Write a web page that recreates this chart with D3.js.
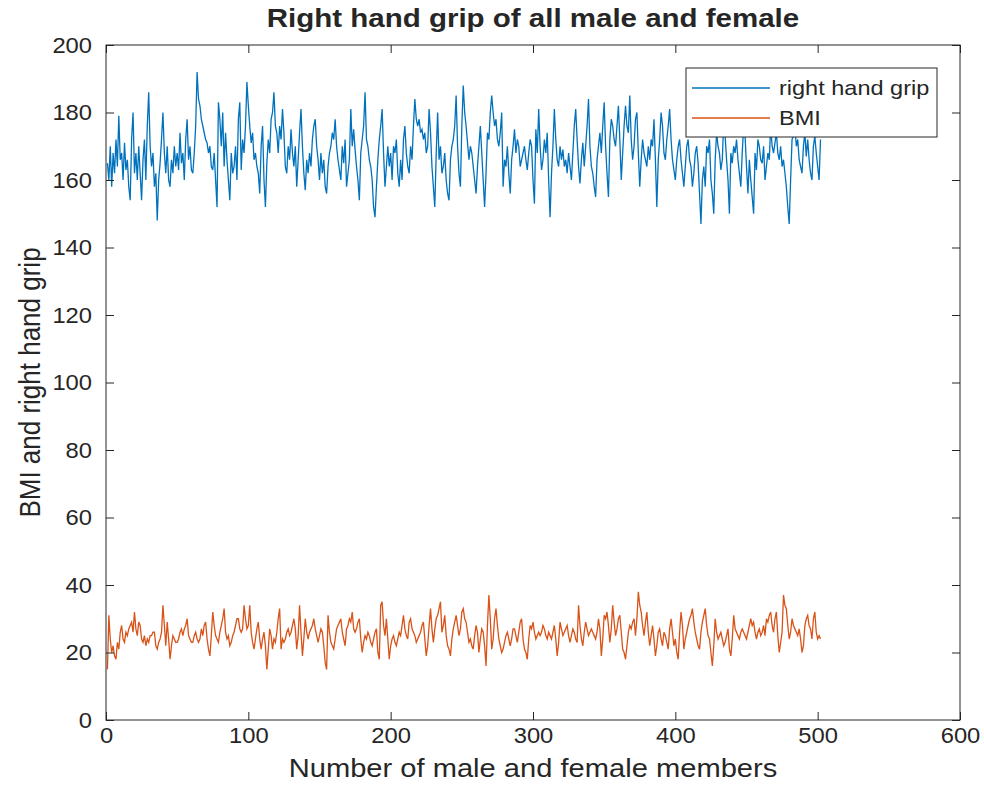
<!DOCTYPE html>
<html>
<head>
<meta charset="utf-8">
<script src="https://cdn.jsdelivr.net/npm/d3@7"></script>
<style>
  html, body { margin: 0; padding: 0; background: #ffffff; }
  svg { display: block; }
  text { font-family: "Liberation Sans", Arial, sans-serif; fill: #262626; }
</style>
</head>
<body>
<svg id="chart" width="984" height="801"></svg>
<script>
// ---- data ----
const title = "Right hand grip of all male and female";
const xLabel = "Number of male and female members";
const yLabel = "BMI and right hand grip";
const seriesNames = ["right hand grip", "BMI"];
const xTicks = [0, 100, 200, 300, 400, 500, 600];
const yTicks = [0, 20, 40, 60, 80, 100, 120, 140, 160, 180, 200];

const rightHandGrip = [
165,160,170,158,168,162,172,164,179,166,
168,160,171,163,166,158,154,172,180,162,
168,160,170,162,154,166,172,160,176,186,
170,164,168,158,162,148,160,165,172,180,
168,162,170,160,158,166,162,170,164,168,
163,174,165,168,160,172,178,166,170,163,
162,168,176,192,184,182,178,176,174,172,
171,168,170,164,163,168,160,152,183,178,
170,180,164,174,166,160,154,168,162,164,
170,160,178,183,163,172,168,176,189,182,
176,171,174,166,168,164,162,156,170,176,
160,152,165,172,168,178,180,186,176,174,
168,176,172,181,174,164,162,170,166,175,
168,164,170,158,166,174,181,170,162,157,
166,162,168,164,172,176,178,170,166,160,
168,162,166,158,156,164,168,170,174,172,
178,170,166,163,160,170,165,172,158,162,
166,181,170,175,169,164,160,154,168,172,
176,186,172,170,166,164,160,152,149,158,
166,172,176,181,168,158,164,170,164,168,
160,170,168,172,162,158,166,160,172,176,
168,164,162,170,166,176,184,178,176,178,
174,175,172,174,168,170,181,174,164,158,
152,168,180,166,170,162,164,168,160,156,
154,166,170,172,176,185,170,162,158,176,
188,180,176,171,166,170,168,164,160,156,
164,170,176,168,160,152,162,174,172,180,
185,180,176,178,172,170,174,180,158,166,
164,170,162,156,166,170,175,168,172,170,
164,166,168,170,166,163,168,172,170,160,
153,175,168,181,170,163,166,172,168,174,
160,149,162,170,181,172,166,164,170,166,
169,164,166,162,168,164,160,168,176,181,
172,164,159,166,171,164,170,176,184,170,
164,162,158,155,166,170,174,168,176,183,
170,162,155,172,178,176,172,170,176,182,
172,160,168,176,182,176,174,185,172,166,
170,178,180,168,158,166,172,168,166,164,
170,166,172,170,178,166,152,166,172,180,
176,168,166,172,176,181,172,166,163,160,
166,170,172,166,162,158,164,170,172,166,
164,158,162,168,170,165,156,147,160,164,
158,170,168,172,160,156,150,166,174,170,
168,163,166,178,173,166,160,150,168,165,
170,168,172,166,162,158,168,176,173,164,
156,166,160,155,150,168,163,172,170,166,
165,170,160,164,168,166,176,170,168,171,
174,168,166,170,164,166,162,158,152,147,
160,172,173,176,170,172,166,164,162,170,
174,167,172,166,162,160,170,173,168,164,
160,172
];

const bmi = [
15,31,24,20,22,19,18,23,21,26,
28,24,23,26,25,27,28,29,26,32,
27,25,29,28,24,23,25,22,24,23,
25,25,26,26,22,21,23,24,26,34,
28,22,29,24,18,22,25,24,23,23,
24,26,27,25,27,28,30,25,24,23,
23,25,26,24,23,24,27,25,28,29,
24,21,19,25,32,28,25,24,23,26,
28,30,33,26,24,25,22,23,25,26,
28,30,30,27,26,27,34,30,27,28,
34,26,23,21,24,27,29,24,21,24,
26,22,15,21,27,25,21,24,23,26,
30,33,21,24,23,24,26,27,25,26,
28,30,27,21,25,34,26,19,24,30,
26,24,26,27,28,30,27,25,23,25,
27,26,22,17,15,31,26,23,22,21,
24,27,28,29,30,26,24,22,27,28,
30,29,32,27,26,27,29,30,24,20,
23,25,24,26,25,23,22,24,26,27,
20,18,34,35,28,25,30,24,18,22,
24,25,23,22,24,26,25,28,31,27,
25,24,29,30,27,26,25,23,24,25,
26,28,29,24,19,22,28,33,27,23,
27,30,31,33,35,26,28,31,25,22,
21,19,24,27,29,31,28,25,27,32,
33,30,29,26,23,24,22,21,25,28,
26,20,24,27,26,22,16,28,37,30,
21,24,30,33,28,24,22,20,21,23,
25,26,24,22,24,27,27,25,23,26,
29,30,24,21,20,18,24,28,27,29,
26,24,25,26,25,26,28,27,25,24,
26,25,24,26,28,24,19,23,29,27,
25,26,27,28,25,23,25,27,26,24,
23,34,28,24,22,26,29,27,25,26,
27,26,25,24,26,30,27,19,24,31,
30,32,28,23,27,34,29,25,27,30,
31,26,21,20,18,22,26,28,27,29,
30,25,30,38,34,32,28,25,29,32,
26,22,25,28,24,19,22,26,27,24,
22,26,25,23,21,27,30,26,22,24,
20,18,26,32,28,21,24,26,28,30,
31,33,29,26,24,22,21,26,29,31,
33,28,25,24,20,16,22,30,26,24,
25,26,24,22,23,25,27,21,19,24,
31,27,26,25,24,26,27,26,25,24,
26,28,30,28,29,26,24,26,27,25,
26,28,25,30,29,31,32,28,26,30,
32,25,20,23,26,37,34,33,28,24,
26,30,28,27,26,25,27,24,20,22,
28,30,31,28,27,24,30,32,26,24,
25,24
];

const seriesColors = ["#0072BD", "#D95319"];

// ---- layout ----
const W = 984, H = 801;
const plot = { left: 106, right: 960, top: 45, bottom: 720 };
const SX = 1.12; // horizontal stretch of the reference's text

const svg = d3.select("#chart");

const x = d3.scaleLinear().domain([0, 600]).range([plot.left, plot.right]);
const y = d3.scaleLinear().domain([0, 200]).range([plot.bottom, plot.top]);

function stretch(sel, sx) {
  sel.each(function () {
    const t = d3.select(this);
    const ax = +t.attr("x") || 0, ay = +t.attr("y") || 0;
    const prev = t.attr("transform") || "";
    t.attr("transform", `${prev} translate(${ax},${ay}) scale(${sx},1) translate(${-ax},${-ay})`);
  });
}

svg.append("defs").append("clipPath").attr("id", "clip")
  .append("rect")
  .attr("x", plot.left).attr("y", plot.top)
  .attr("width", plot.right - plot.left).attr("height", plot.bottom - plot.top);

// series lines
const line = d3.line().x((d, i) => x(i + 1)).y(d => y(d));
const gLines = svg.append("g").attr("clip-path", "url(#clip)");
[rightHandGrip, bmi].forEach((s, k) => {
  gLines.append("path")
    .datum(s)
    .attr("fill", "none")
    .attr("stroke", seriesColors[k])
    .attr("stroke-width", 1.3)
    .attr("stroke-linejoin", "miter")
    .attr("d", line);
});

// axes
const tickLen = 8;
const axisColor = "#262626";
function styleAxis(g, showLabels) {
  g.select(".domain").remove();
  g.selectAll(".tick line").attr("stroke", axisColor).attr("stroke-width", 1);
  if (!showLabels) g.selectAll(".tick text").remove();
  else {
    g.selectAll(".tick text").attr("fill", "#262626").style("font-size", "22px")
      .style("font-family", "'Liberation Sans', Arial, sans-serif");
    stretch(g.selectAll(".tick text"), 1.08);
  }
}

svg.append("g").attr("transform", `translate(0,${plot.bottom})`)
  .call(d3.axisBottom(x).tickValues(xTicks).tickFormat(d3.format("d")).tickSizeInner(-tickLen).tickSizeOuter(0).tickPadding(7))
  .call(g => styleAxis(g, true));
svg.append("g").attr("transform", `translate(0,${plot.top})`)
  .call(d3.axisTop(x).tickValues(xTicks).tickSizeInner(-tickLen).tickSizeOuter(0))
  .call(g => styleAxis(g, false));
svg.append("g").attr("transform", `translate(${plot.left},0)`)
  .call(d3.axisLeft(y).tickValues(yTicks).tickFormat(d3.format("d")).tickSizeInner(-tickLen).tickSizeOuter(0).tickPadding(14))
  .call(g => styleAxis(g, true));
svg.append("g").attr("transform", `translate(${plot.right},0)`)
  .call(d3.axisRight(y).tickValues(yTicks).tickSizeInner(-tickLen).tickSizeOuter(0))
  .call(g => styleAxis(g, false));

// box
svg.append("rect")
  .attr("x", plot.left).attr("y", plot.top)
  .attr("width", plot.right - plot.left).attr("height", plot.bottom - plot.top)
  .attr("fill", "none").attr("stroke", axisColor).attr("stroke-width", 1);

// legend
const leg = { x: 686, y: 68, w: 251, h: 69 };
const gLeg = svg.append("g");
gLeg.append("rect")
  .attr("x", leg.x).attr("y", leg.y).attr("width", leg.w).attr("height", leg.h)
  .attr("fill", "#ffffff").attr("stroke", axisColor).attr("stroke-width", 1);
seriesNames.forEach((name, k) => {
  const yy = leg.y + 20 + k * 30;
  gLeg.append("line")
    .attr("x1", leg.x + 6).attr("x2", leg.x + 84)
    .attr("y1", yy).attr("y2", yy)
    .attr("stroke", seriesColors[k]).attr("stroke-width", 1.3);
  gLeg.append("text")
    .attr("x", leg.x + 93).attr("y", yy + 7)
    .style("font-size", "21px")
    .text(name)
    .call(t => stretch(t, SX));
});

// title & labels
svg.append("text")
  .attr("x", (plot.left + plot.right) / 2).attr("y", 27)
  .attr("text-anchor", "middle")
  .style("font-size", "25px").style("font-weight", "bold")
  .attr("fill", "#000000")
  .text(title)
  .call(t => stretch(t, 1.18));

svg.append("text")
  .attr("x", (plot.left + plot.right) / 2).attr("y", 777)
  .attr("text-anchor", "middle")
  .style("font-size", "26px")
  .text(xLabel)
  .call(t => stretch(t, SX));

svg.append("text")
  .attr("transform", `translate(40,${(plot.top + plot.bottom) / 2}) rotate(-90) scale(1,${SX})`)
  .attr("text-anchor", "middle")
  .style("font-size", "26px")
  .text(yLabel);
</script>
</body>
</html>
